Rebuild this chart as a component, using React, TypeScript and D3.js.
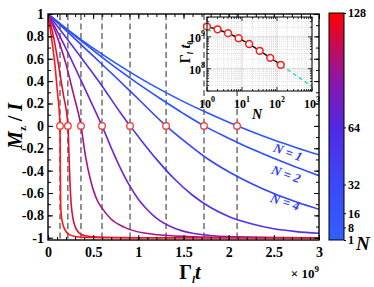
import React, { useRef, useEffect } from 'react';
import * as d3 from 'd3';

const W = 374;
const H = 287;
const FONT = "'Liberation Serif', 'Times New Roman', serif";

// ensemble sizes and the time each curve crosses Mz = 0 (units of 1e9 / Gamma_l)
const sizes = [1, 2, 4, 8, 16, 32, 64, 128];
const crossT = [2.093, 1.727, 1.307, 0.908, 0.598, 0.365, 0.22, 0.133];
const lineColors = ['#2b55ff', '#2c50ff', '#3346fb', '#5130ee', '#7422d0', '#a01590', '#e01035', '#ff1515'];

// Mz/I curves
const tN1 = [0, 0.25, 0.5, 0.75, 1, 1.25, 1.5, 1.75, 2, 2.25, 2.5, 2.75, 3];
const mN1 = [1, 0.841, 0.695, 0.561, 0.436, 0.322, 0.217, 0.121, 0.032, -0.05, -0.126, -0.195, -0.259];
const tN2 = [0, 0.25, 0.5, 0.75, 1, 1.25, 1.5, 1.727, 2, 2.25, 2.5, 2.75, 3];
const mN2 = [1, 0.835, 0.675, 0.52, 0.375, 0.24, 0.11, 0, -0.11, -0.205, -0.29, -0.37, -0.445];
const tN4 = [0, 0.25, 0.5, 0.75, 1, 1.307, 1.5, 1.75, 2, 2.25, 2.5, 2.75, 3];
const mN4 = [1, 0.815, 0.625, 0.435, 0.24, 0, -0.13, -0.285, -0.41, -0.515, -0.605, -0.68, -0.745];
const tN8 = [0, 0.2, 0.4, 0.6, 0.8, 0.908, 1, 1.2, 1.4, 1.6, 1.8, 2, 2.25, 2.5, 2.75, 3];
const mN8 = [1, 0.79, 0.575, 0.355, 0.12, 0, -0.096, -0.297, -0.475, -0.62, -0.73, -0.81, -0.875, -0.92, -0.945, -0.96];
const tN16 = [0, 0.15, 0.3, 0.45, 0.598, 0.7, 0.8, 0.9, 1, 1.1, 1.2, 1.4, 1.6, 1.8, 2, 2.5, 3];
const mN16 = [1, 0.77, 0.52, 0.26, 0, -0.196, -0.375, -0.53, -0.655, -0.75, -0.825, -0.915, -0.96, -0.98, -0.99, -0.998, -1];
const tN32 = [0, 0.1, 0.2, 0.28, 0.365, 0.417, 0.472, 0.546, 0.602, 0.694, 0.842, 1.063, 1.432, 2, 3];
const mN32 = [1, 0.8, 0.55, 0.29, 0, -0.28, -0.488, -0.667, -0.74, -0.83, -0.905, -0.958, -0.985, -0.997, -1];
const tN64 = [0, 0.06, 0.12, 0.17, 0.221, 0.232, 0.243, 0.257, 0.275, 0.3, 0.34, 0.4, 0.5, 0.7, 1, 3];
const mN64 = [1, 0.8, 0.53, 0.28, 0, -0.25, -0.5, -0.7, -0.82, -0.9, -0.955, -0.98, -0.992, -0.998, -1, -1];
const tN128 = [0, 0.04, 0.08, 0.105, 0.133, 0.136, 0.14, 0.148, 0.159, 0.185, 0.233, 0.3, 0.45, 1, 3];
const mN128 = [1, 0.78, 0.52, 0.3, 0, -0.35, -0.7, -0.8, -0.86, -0.925, -0.97, -0.988, -0.997, -1, -1];

// "N = ..." annotations (position in data units), sitting just under their curves
const labelText = ['N = 1', 'N = 2', 'N = 4'];
const labelT = [2.657, 2.635, 2.624];
const labelM = [-0.235, -0.43, -0.68];
const labelAngle = [20, 20, 18];

// inset: dashed fit of the crossing time vs N
const fitN = [1, 2, 4, 8, 16, 32, 64, 128, 256, 512, 1000];
const fitT = [1.55, 1.62, 1.3, 0.91, 0.6, 0.366, 0.22, 0.133, 0.078, 0.046, 0.0275];

// colour bar
const barTicks = [1, 8, 16, 32, 64, 128];
const barStops = [
  { o: 0, c: '#3160ff' },
  { o: 0.25, c: '#3a48f8' },
  { o: 0.5, c: '#5228e4' },
  { o: 0.7, c: '#8a18a8' },
  { o: 0.86, c: '#c80c50' },
  { o: 1, c: '#ff0000' },
];

const fmt = (d) => String(+(+d).toFixed(1));

const App = () => {
  const ref = useRef(null);

  useEffect(() => {
    const svg = d3.select(ref.current);
    svg.selectAll('*').remove();
    svg.attr('font-family', FONT);
    svg.append('rect').attr('width', W).attr('height', H).attr('fill', '#fff');

    // --- main panel ---
    const x = d3.scaleLinear().domain([0, 3]).range([48, 319]);
    const y = d3.scaleLinear().domain([-1.02, 1]).range([240, 14]);
    const [top, bottom] = [y.range()[1], y.range()[0]];

    const defs = svg.append('defs');
    defs.append('clipPath').attr('id', 'plotclip').append('rect')
      .attr('x', x(0)).attr('y', top).attr('width', x(3) - x(0)).attr('height', bottom - top);

    const plot = svg.append('g').attr('clip-path', 'url(#plotclip)');

    plot.selectAll('line.cross').data(crossT).join('line')
      .attr('x1', d => x(d)).attr('x2', d => x(d))
      .attr('y1', top).attr('y2', bottom)
      .attr('stroke', '#3a3a3a').attr('stroke-width', 1.1).attr('stroke-dasharray', '6,3.5');

    const curves = [[tN1, mN1], [tN2, mN2], [tN4, mN4], [tN8, mN8], [tN16, mN16], [tN32, mN32], [tN64, mN64], [tN128, mN128]];
    const line = d3.line().x(d => x(d[0])).y(d => y(d[1])).curve(d3.curveMonotoneX);
    curves.forEach((c, i) => {
      plot.append('path')
        .datum(d3.zip(c[0], c[1]))
        .attr('fill', 'none')
        .attr('stroke', lineColors[i])
        .attr('stroke-width', 1.6)
        .attr('d', line);
    });

    svg.selectAll('circle.cross').data(crossT).join('circle')
      .attr('cx', d => x(d)).attr('cy', y(0)).attr('r', 3.3)
      .attr('fill', '#fff').attr('stroke', '#ff2a2a').attr('stroke-width', 1.2);

    labelText.forEach((s, i) => {
      svg.append('text')
        .attr('transform', `translate(${x(labelT[i])},${y(labelM[i])}) rotate(${labelAngle[i]})`)
        .attr('text-anchor', 'middle').attr('dominant-baseline', 'central')
        .attr('font-size', 13).attr('font-weight', 'bold').attr('font-style', 'italic')
        .attr('fill', '#2a3cff').text(s);
    });

    // axes with inward ticks on all four sides
    const styleAxis = (g, size = 14) => {
      g.select('.domain').remove();
      g.selectAll('.tick line').attr('stroke', '#000').attr('stroke-width', 1);
      g.selectAll('text').attr('font-family', FONT).attr('font-weight', 'bold')
        .attr('font-size', size).attr('fill', '#000');
    };
    const none = () => '';
    svg.append('g').attr('transform', `translate(0,${bottom})`)
      .call(d3.axisBottom(x).tickValues(x.ticks(30)).tickSize(-3).tickFormat(none)).call(styleAxis);
    svg.append('g').attr('transform', `translate(0,${bottom})`)
      .call(d3.axisBottom(x).tickValues(x.ticks(6)).tickSize(-5).tickPadding(7).tickFormat(fmt)).call(styleAxis);
    svg.append('g').attr('transform', `translate(0,${top})`)
      .call(d3.axisTop(x).tickValues(x.ticks(30)).tickSize(-3).tickFormat(none)).call(styleAxis);
    svg.append('g').attr('transform', `translate(0,${top})`)
      .call(d3.axisTop(x).tickValues(x.ticks(6)).tickSize(-5).tickFormat(none)).call(styleAxis);
    svg.append('g').attr('transform', `translate(${x(0)},0)`)
      .call(d3.axisLeft(y).tickValues(y.ticks(20)).tickSize(-3).tickFormat(none)).call(styleAxis);
    svg.append('g').attr('transform', `translate(${x(0)},0)`)
      .call(d3.axisLeft(y).tickValues(y.ticks(10)).tickSize(-5).tickPadding(4).tickFormat(fmt)).call(styleAxis);
    svg.append('g').attr('transform', `translate(${x(3)},0)`)
      .call(d3.axisRight(y).tickValues(y.ticks(20)).tickSize(-3).tickFormat(none)).call(styleAxis);
    svg.append('g').attr('transform', `translate(${x(3)},0)`)
      .call(d3.axisRight(y).tickValues(y.ticks(10)).tickSize(-5).tickFormat(none)).call(styleAxis);

    svg.append('rect').attr('x', x(0)).attr('y', top).attr('width', x(3) - x(0)).attr('height', bottom - top)
      .attr('fill', 'none').attr('stroke', '#000').attr('stroke-width', 1.4);

    // axis titles
    const xt = svg.append('text').attr('x', 190).attr('y', 279).attr('text-anchor', 'middle')
      .attr('font-size', 20).attr('font-weight', 'bold');
    xt.append('tspan').text('Γ');
    xt.append('tspan').attr('font-size', 11).attr('font-style', 'italic').attr('dy', 4).text('l');
    xt.append('tspan').attr('font-style', 'italic').attr('dy', -4).text('t');

    const xs = svg.append('text').attr('x', x(3)).attr('y', 278).attr('text-anchor', 'end')
      .attr('font-size', 13).attr('font-weight', 'bold');
    xs.append('tspan').text('× 10');
    xs.append('tspan').attr('font-size', 9).attr('dy', -6).text('9');

    const yt = svg.append('text').attr('transform', `translate(22,${y(0)}) rotate(-90)`)
      .attr('text-anchor', 'middle').attr('font-size', 20).attr('font-weight', 'bold');
    yt.append('tspan').attr('font-style', 'italic').text('M');
    yt.append('tspan').attr('font-size', 11).attr('dy', 4).text('z');
    yt.append('tspan').attr('dy', -4).text(' / ');
    yt.append('tspan').attr('font-style', 'italic').text('I');

    // --- inset ---
    const ix = d3.scaleLog().domain([1, 1000]).range([207, 312]);
    const iy = d3.scaleLog().domain([0.02, 4.2]).range([91, 17]);
    const [il, ir] = ix.range();
    const [ib, itp] = iy.range();
    const isDecade = d => Math.abs(Math.log10(d) - Math.round(Math.log10(d))) < 1e-9;
    const inset = svg.append('g');
    inset.append('rect').attr('x', il).attr('y', itp).attr('width', ir - il).attr('height', ib - itp).attr('fill', '#fff');

    const xg = ix.ticks();
    const yg = iy.ticks();
    inset.selectAll('line.gx').data(xg).join('line')
      .attr('x1', d => ix(d)).attr('x2', d => ix(d)).attr('y1', itp).attr('y2', ib)
      .attr('stroke', d => isDecade(d) ? '#cfcfcf' : '#c4c4c4')
      .attr('stroke-width', d => isDecade(d) ? 0.8 : 0.5)
      .attr('stroke-dasharray', d => isDecade(d) ? null : '1,1');
    inset.selectAll('line.gy').data(yg).join('line')
      .attr('y1', d => iy(d)).attr('y2', d => iy(d)).attr('x1', il).attr('x2', ir)
      .attr('stroke', d => isDecade(d) ? '#cfcfcf' : '#c4c4c4')
      .attr('stroke-width', d => isDecade(d) ? 0.8 : 0.5)
      .attr('stroke-dasharray', d => isDecade(d) ? null : '1,1');

    const tickLine = (g, data, f) => g.selectAll(null).data(data).join('line').each(function (d) {
      const len = isDecade(d) ? 4 : 2;
      const a = f(d, len);
      d3.select(this).attr('x1', a[0]).attr('y1', a[1]).attr('x2', a[2]).attr('y2', a[3])
        .attr('stroke', '#000').attr('stroke-width', 0.8);
    });
    tickLine(inset, xg, (d, l) => [ix(d), ib, ix(d), ib - l]);
    tickLine(inset, xg, (d, l) => [ix(d), itp, ix(d), itp + l]);
    tickLine(inset, yg, (d, l) => [il, iy(d), il + l, iy(d)]);
    tickLine(inset, yg, (d, l) => [ir, iy(d), ir - l, iy(d)]);

    const fitLine = d3.line().x(d => ix(d[0])).y(d => iy(d[1]));
    inset.append('path').datum(d3.zip(fitN, fitT))
      .attr('fill', 'none').attr('stroke', '#3ddcb0').attr('stroke-width', 1.6)
      .attr('stroke-dasharray', '4,3').attr('d', fitLine);
    inset.append('path').datum(d3.zip(sizes, crossT))
      .attr('fill', 'none').attr('stroke', '#000').attr('stroke-width', 1.3).attr('d', fitLine);
    inset.selectAll('circle').data(d3.zip(sizes, crossT)).join('circle')
      .attr('cx', d => ix(d[0])).attr('cy', d => iy(d[1])).attr('r', 3.4)
      .attr('fill', '#fff').attr('stroke', '#ff1a1a').attr('stroke-width', 1.5);

    inset.append('rect').attr('x', il).attr('y', itp).attr('width', ir - il).attr('height', ib - itp)
      .attr('fill', 'none').attr('stroke', '#000').attr('stroke-width', 1);

    xg.filter(isDecade).forEach(d => {
      const t = inset.append('text').attr('x', ix(d)).attr('y', 108).attr('text-anchor', 'middle')
        .attr('font-size', 12).attr('font-weight', 'bold');
      t.append('tspan').text('10');
      t.append('tspan').attr('font-size', 8).attr('dy', -6).text(String(Math.round(Math.log10(d))));
    });
    yg.filter(isDecade).forEach(d => {
      const t = inset.append('text').attr('x', 205).attr('y', iy(d) + 5).attr('text-anchor', 'end')
        .attr('font-size', 12).attr('font-weight', 'bold');
      t.append('tspan').text('10');
      t.append('tspan').attr('font-size', 8).attr('dy', -6).text(String(Math.round(Math.log10(d)) + 9));
    });
    inset.append('text').attr('x', 257).attr('y', 119).attr('text-anchor', 'middle')
      .attr('font-size', 14).attr('font-weight', 'bold').attr('font-style', 'italic').text('N');
    const iyt = inset.append('text').attr('transform', `translate(190,${(itp + ib) / 2 - 2}) rotate(-90)`)
      .attr('text-anchor', 'middle').attr('font-size', 14).attr('font-weight', 'bold');
    iyt.append('tspan').text('Γ');
    iyt.append('tspan').attr('font-size', 8).attr('font-style', 'italic').attr('dy', 3).text('l');
    iyt.append('tspan').attr('font-style', 'italic').attr('dy', -3).text(' t');
    iyt.append('tspan').attr('font-size', 8).attr('dy', 3).text('0');

    // --- colour bar ---
    const cb = d3.scaleLinear().domain([1, 128]).range([240, 13]);
    const grad = defs.append('linearGradient').attr('id', 'nbar')
      .attr('x1', 0).attr('y1', 1).attr('x2', 0).attr('y2', 0);
    barStops.forEach(s => grad.append('stop').attr('offset', s.o).attr('stop-color', s.c));
    svg.append('rect').attr('x', 329).attr('y', cb.range()[1]).attr('width', 15)
      .attr('height', cb.range()[0] - cb.range()[1])
      .attr('fill', 'url(#nbar)').attr('stroke', '#000').attr('stroke-width', 1);
    svg.append('g').attr('transform', 'translate(344,0)')
      .call(d3.axisRight(cb).tickValues(barTicks).tickSize(2).tickPadding(2))
      .call(g => styleAxis(g, 12));
    svg.append('text').attr('x', 356).attr('y', 250).attr('font-size', 19)
      .attr('font-weight', 'bold').attr('font-style', 'italic').text('N');
  }, []);

  return <svg ref={ref} width={W} height={H} style={{ position: 'absolute', left: 0, top: 0 }} />;
};

export default App;
